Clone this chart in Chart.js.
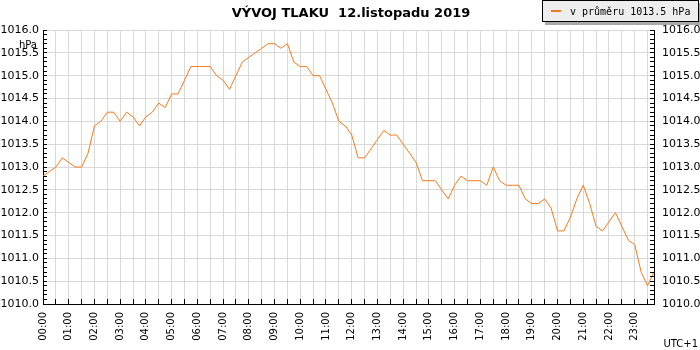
<!DOCTYPE html>
<html>
<head>
<meta charset="utf-8">
<script src="https://cdn.jsdelivr.net/npm/chart.js@4.4.1/dist/chart.umd.min.js"></script>
<style>
  html, body { margin: 0; padding: 0; background: #fff; }
  #wrap { width: 700px; height: 350px; position: relative; }
</style>
</head>
<body>
<div id="wrap"><canvas id="chart"></canvas></div>
<script>
// Readings every 15 minutes
const times = [
    '00:00', '00:15', '00:30', '00:45', '01:00', '01:15', '01:30', '01:45',
    '02:00', '02:15', '02:30', '02:45', '03:00', '03:15', '03:30', '03:45',
    '04:00', '04:15', '04:30', '04:45', '05:00', '05:15', '05:30', '05:45',
    '06:00', '06:15', '06:30', '06:45', '07:00', '07:15', '07:30', '07:45',
    '08:00', '08:15', '08:30', '08:45', '09:00', '09:15', '09:30', '09:45',
    '10:00', '10:15', '10:30', '10:45', '11:00', '11:15', '11:30', '11:45',
    '12:00', '12:15', '12:30', '12:45', '13:00', '13:15', '13:30', '13:45',
    '14:00', '14:15', '14:30', '14:45', '15:00', '15:15', '15:30', '15:45',
    '16:00', '16:15', '16:30', '16:45', '17:00', '17:15', '17:30', '17:45',
    '18:00', '18:15', '18:30', '18:45', '19:00', '19:15', '19:30', '19:45',
    '20:00', '20:15', '20:30', '20:45', '21:00', '21:15', '21:30', '21:45',
    '22:00', '22:15', '22:30', '22:45', '23:00', '23:15', '23:30', '23:45'
];

// Pressure in hPa
const pressure = [
    1012.8, 1012.9, 1013.0, 1013.2, 1013.1, 1013.0, 1013.0, 1013.3,
    1013.9, 1014.0, 1014.2, 1014.2, 1014.0, 1014.2, 1014.1, 1013.9,
    1014.1, 1014.2, 1014.4, 1014.3, 1014.6, 1014.6, 1014.9, 1015.2,
    1015.2, 1015.2, 1015.2, 1015.0, 1014.9, 1014.7, 1015.0, 1015.3,
    1015.4, 1015.5, 1015.6, 1015.7, 1015.7, 1015.6, 1015.7, 1015.3,
    1015.2, 1015.2, 1015.0, 1015.0, 1014.7, 1014.4, 1014.0, 1013.9,
    1013.7, 1013.2, 1013.2, 1013.4, 1013.6, 1013.8, 1013.7, 1013.7,
    1013.5, 1013.3, 1013.1, 1012.7, 1012.7, 1012.7, 1012.5, 1012.3,
    1012.6, 1012.8, 1012.7, 1012.7, 1012.7, 1012.6, 1013.0, 1012.7,
    1012.6, 1012.6, 1012.6, 1012.3, 1012.2, 1012.2, 1012.3, 1012.1,
    1011.6, 1011.6, 1011.9, 1012.3, 1012.6, 1012.2, 1011.7, 1011.6,
    1011.8, 1012.0, 1011.7, 1011.4, 1011.3, 1010.7, 1010.4, 1010.7
];

const titleText = 'VÝVOJ TLAKU  12.listopadu 2019';
const legendText = 'v průměru 1013.5 hPa';
const unitText = 'hPa';
const zoneText = 'UTC+1';

const yMin = 1010;
const yMax = 1016;
const yStep = 0.5;
const yMinorStep = 0.1;

const lineColor = '#f77a1c';
const gridColor = '#d9d9d9';

Chart.defaults.font.family = '"DejaVu Sans", Verdana, sans-serif';
Chart.defaults.color = '#000';

function align(p) {
    return Math.round(p - 0.5) + 0.5;
}

// Title, legend box, unit labels and the small inner ticks
const decor = {
    id: 'decor',
    afterDraw(chart) {
        const ctx = chart.ctx;
        const area = chart.chartArea;
        const xs = chart.scales.x;
        const ys = chart.scales.y;
        ctx.save();

        ctx.strokeStyle = '#000';
        ctx.lineWidth = 1;
        ctx.beginPath();
        const n = Math.round((yMax - yMin) / yMinorStep);
        for (let k = 0; k <= n; k++) {
            const py = align(ys.getPixelForValue(yMin + k * yMinorStep));
            ctx.moveTo(area.left, py);
            ctx.lineTo(area.left + 4, py);
            ctx.moveTo(area.right, py);
            ctx.lineTo(area.right - 4, py);
        }
        times.forEach((t, i) => {
            if (i % 2) return;
            const px = align(xs.getPixelForValue(i));
            ctx.moveTo(px, area.bottom);
            ctx.lineTo(px, area.bottom - 5);
        });
        ctx.stroke();

        // title
        ctx.fillStyle = '#000';
        ctx.font = 'bold 13px "DejaVu Sans"';
        ctx.textAlign = 'center';
        ctx.textBaseline = 'alphabetic';
        ctx.fillText(titleText, 351, 17);

        // legend
        ctx.fillStyle = '#a9a9a9';
        ctx.fillRect(545, 3, 156, 22);
        ctx.fillStyle = '#eeeeee';
        ctx.fillRect(542.5, 0.5, 156, 21);
        ctx.strokeStyle = '#000';
        ctx.strokeRect(542.5, 0.5, 156, 21);
        ctx.fillStyle = lineColor;
        ctx.fillRect(551, 10, 10, 2);
        ctx.fillStyle = '#000';
        ctx.font = '10px "DejaVu Sans Mono"';
        ctx.textAlign = 'left';
        ctx.fillText(legendText, 570, 15);

        // unit and time zone
        ctx.font = '10px "DejaVu Sans"';
        ctx.textAlign = 'right';
        ctx.fillText(unitText, 37, 48);
        ctx.fillText(zoneText, 698, 347);

        ctx.restore();
    }
};

const yTickFont = { size: 11 };

new Chart(document.getElementById('chart'), {
    type: 'line',
    data: {
        labels: times,
        datasets: [{
            label: legendText,
            data: pressure,
            borderColor: lineColor,
            borderWidth: 1,
            pointRadius: 0,
            tension: 0,
            fill: false
        }]
    },
    options: {
        responsive: true,
        maintainAspectRatio: false,
        animation: false,
        events: [],
        layout: { padding: { top: 30, left: 0, right: 0, bottom: 0 } },
        plugins: {
            legend: { display: false },
            title: { display: false },
            tooltip: { enabled: false }
        },
        scales: {
            x: {
                type: 'category',
                offset: false,
                afterFit(s) { s.height = 46; },
                grid: {
                    color: c => (c.index % 2 === 0 ? gridColor : 'rgba(0,0,0,0)'),
                    drawTicks: false
                },
                border: { display: true, color: '#000', width: 1 },
                ticks: {
                    autoSkip: false,
                    maxRotation: 90,
                    minRotation: 90,
                    padding: 8,
                    font: { size: 10 },
                    callback(value) {
                        const t = this.getLabelForValue(value);
                        return t.endsWith(':00') ? t : '';
                    }
                }
            },
            y: {
                position: 'left',
                min: yMin,
                max: yMax,
                afterFit(s) { s.width = 43; },
                grid: { color: gridColor, drawTicks: false },
                border: { display: true, color: '#000', width: 1 },
                ticks: {
                    stepSize: yStep,
                    padding: 4,
                    font: yTickFont,
                    callback: v => v.toFixed(1)
                }
            },
            y2: {
                position: 'right',
                min: yMin,
                max: yMax,
                afterFit(s) { s.width = 46; },
                grid: { drawOnChartArea: false, drawTicks: false },
                border: { display: true, color: '#000', width: 1 },
                ticks: {
                    stepSize: yStep,
                    padding: 8,
                    font: yTickFont,
                    callback: v => v.toFixed(1)
                }
            }
        }
    },
    plugins: [decor]
});
</script>
</body>
</html>
